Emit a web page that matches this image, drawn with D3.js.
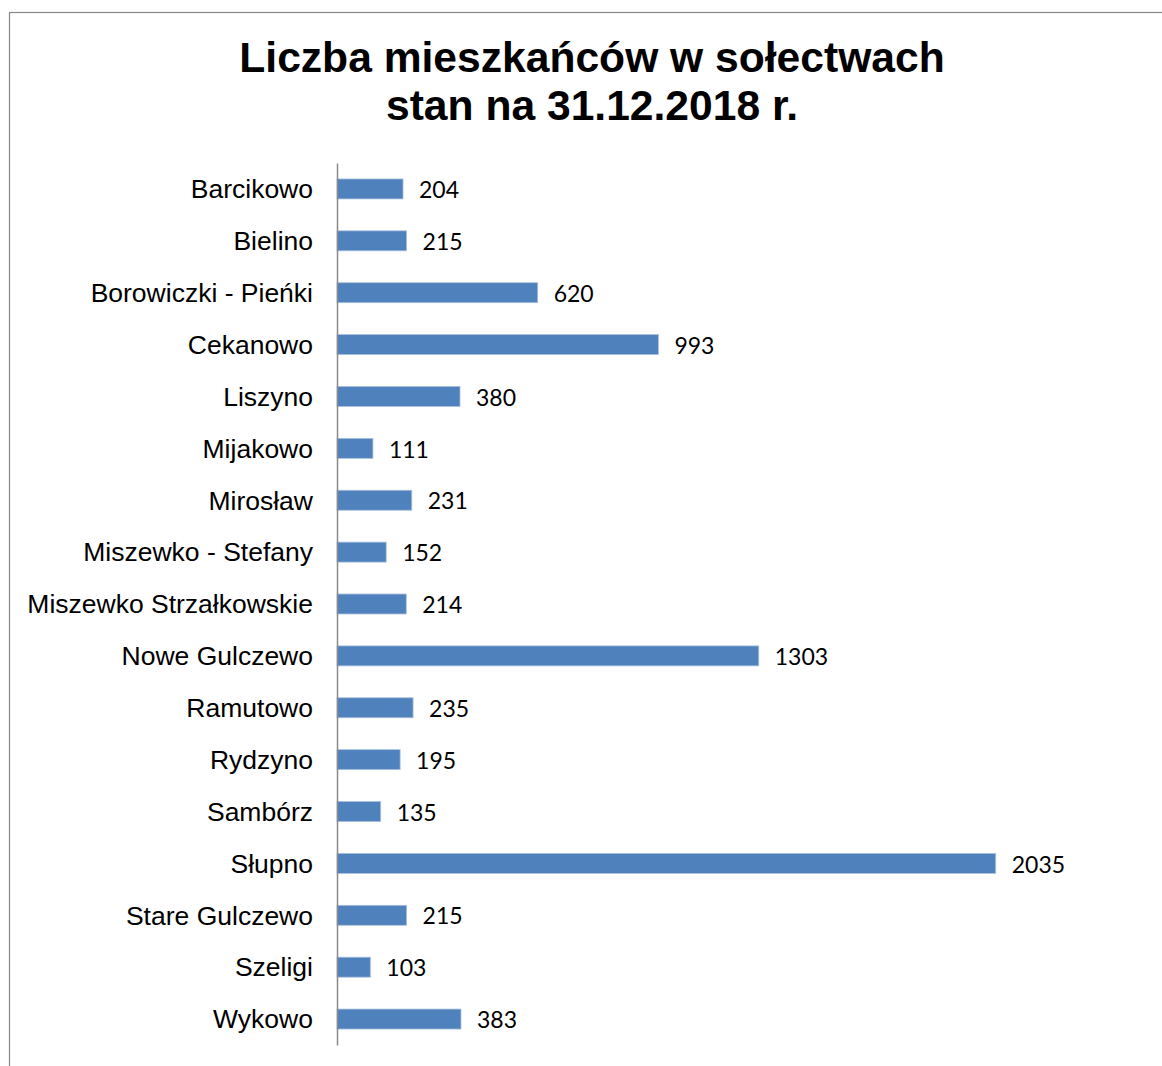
<!DOCTYPE html>
<html><head><meta charset="utf-8">
<script src="https://cdn.jsdelivr.net/npm/d3@7"></script>
<style>html,body{margin:0;padding:0;background:#fff;}</style>
</head><body>
<script>
const categories = ["Barcikowo","Bielino","Borowiczki - Pieńki","Cekanowo","Liszyno","Mijakowo","Mirosław","Miszewko - Stefany","Miszewko Strzałkowskie","Nowe Gulczewo","Ramutowo","Rydzyno","Sambórz","Słupno","Stare Gulczewo","Szeligi","Wykowo"];
const values = [204,215,620,993,380,111,231,152,214,1303,235,195,135,2035,215,103,383];
const titleLines = ["Liczba mieszkańców w sołectwach","stan na 31.12.2018 r."];

const W = 1162, H = 1066;
const svg = d3.select("body").append("svg").attr("width", W).attr("height", H);

svg.append("rect").attr("x",9.5).attr("y",12.5).attr("width",1200).attr("height",1200)
  .attr("fill","#fff").attr("stroke","#878787").attr("stroke-width",1.2);

const x0 = 337;
const x = d3.scaleLinear().domain([0, 2500]).range([x0, x0 + 2500*0.3237]);
const y = d3.scaleBand().domain(categories).range([163, 1045]).paddingInner(0.615).paddingOuter(0.3075);

svg.append("g").selectAll("text").data(titleLines).join("text")
  .attr("x", 592).attr("y", (d,i)=> 72 + i*48)
  .attr("text-anchor","middle")
  .attr("font-family","'Liberation Sans', Arial, sans-serif")
  .attr("font-weight","bold").attr("font-size", 42.6).attr("fill","#000")
  .text(d=>d);

svg.append("g").selectAll("rect").data(values).join("rect")
  .attr("x", x(0)).attr("y", (d,i)=> y(categories[i]))
  .attr("width", d=> x(d)-x(0)).attr("height", y.bandwidth())
  .attr("fill","#4f81bd").attr("stroke","#a9c0de").attr("stroke-width",0.8);

const yAxis = d3.axisLeft(y).tickSize(0).tickPadding(24);
const gy = svg.append("g").attr("transform",`translate(${x0},0)`).call(yAxis);
gy.select(".domain").attr("stroke","#8a8a8a").attr("stroke-width",1.5);
gy.selectAll("text").attr("font-family","'Liberation Sans', Arial, sans-serif")
  .attr("font-size",26.5).attr("fill","#000").attr("dy","0.35em");

svg.append("g").selectAll("text").data(values).join("text")
  .attr("x", d=> x(d)+16).attr("y", (d,i)=> y(categories[i]) + y.bandwidth()/2)
  .attr("dy","0.4em")
  .attr("font-family","Lato, 'Open Sans', sans-serif")
  .attr("font-size",23).attr("fill","#000")
  .text(d=>d);
</script>
</body></html>
